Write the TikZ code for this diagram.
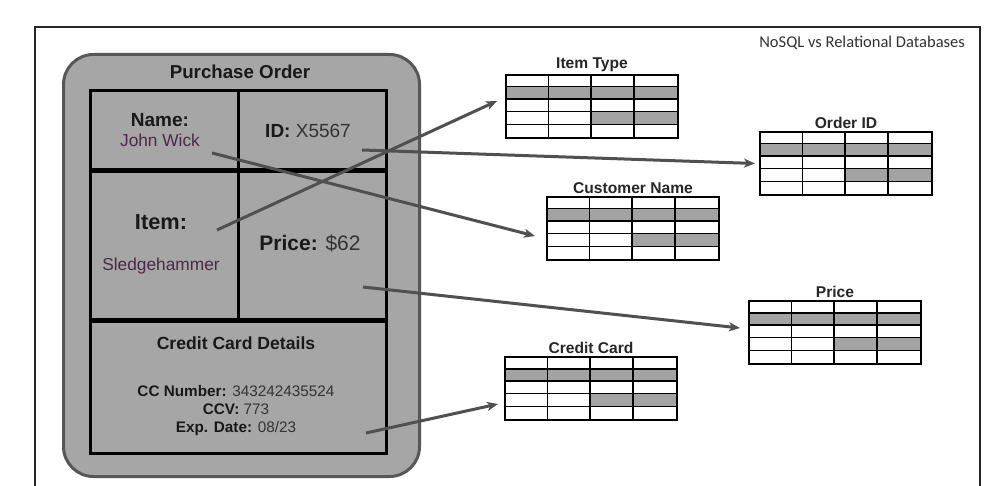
\documentclass[tikz,border=0pt]{standalone}
\usepackage{fontspec}
\setmainfont{Liberation Sans}
\newfontfamily\calibri{Carlito}
\usetikzlibrary{arrows.meta, positioning, calc}

\definecolor{boxgray}{HTML}{A6A6A6}
\definecolor{rowgray}{HTML}{A3A3A3}
\definecolor{edgegray}{HTML}{575757}
\definecolor{arrowgray}{HTML}{505050}
\definecolor{valtext}{HTML}{333333}
\definecolor{nametext}{HTML}{4A2B45}

\begin{document}
\begin{tikzpicture}[
  x=1pt, y=-1pt,
  orderbox/.style  = {rectangle, rounded corners=30pt, draw=edgegray, line width=3pt,
                      fill=boxgray, anchor=north west, inner sep=0pt,
                      minimum width=356pt, minimum height=422pt},
  cell/.style      = {rectangle, draw=black, line width=2.6pt, fill=boxgray,
                      anchor=north west, inner sep=0pt},
  sep/.style       = {line width=4pt, draw=black},
  label/.style     = {font=\bfseries\fontsize{#1}{#1}\selectfont, text=black!90, inner sep=1pt},
  value/.style     = {font=\fontsize{#1}{#1}\selectfont, text=valtext, inner sep=1pt},
  tblbox/.style    = {rectangle, draw=black, line width=2pt, anchor=north west,
                      minimum width=172pt, minimum height=63pt, inner sep=0pt},
  tbltitle/.style  = {font=\bfseries\fontsize{15.6}{15.6}\selectfont, text=black!85, inner sep=1pt},
  thinrule/.style  = {line width=0.9pt, draw=black},
  thickrule/.style = {line width=1.8pt, draw=black},
  arr/.style       = {-{Stealth[length=11pt, width=9pt, inset=3pt]}, line width=3pt, draw=arrowgray},
]

\useasboundingbox[fill=white] (0,0) rectangle (990,486);

%% outer frame and caption
\draw[line width=1.2pt, black!85] (35,492) -- (35,27) -- (980,27) -- (980,492);
\node[font=\calibri\fontsize{16.5}{16.5}\selectfont, text=black!80, anchor=east, inner sep=0pt]
  (caption) at (965,43) {NoSQL vs Relational Databases};

%% purchase order document
\node[orderbox] (order) at (62,53) {};
\node[label=18.7] (ordertitle) at (240,72) {Purchase Order};

\node[cell, minimum width=148pt, minimum height=79pt]  (namecell)  at (89,89)  {};
\node[cell, minimum width=148pt, minimum height=79pt]  (idcell)    at (237,89) {};
\node[cell, minimum width=148pt, minimum height=150pt] (itemcell)  at (89,168) {};
\node[cell, minimum width=148pt, minimum height=150pt] (pricecell) at (237,168) {};
\node[cell, minimum width=296pt, minimum height=134pt] (cccell)    at (89,318) {};

\draw[sep] (namecell.south west) -- (idcell.south east);
\draw[sep] (itemcell.south west) -- (pricecell.south east);

\node[label=19] (namelbl) at (160,120) {Name:};
\node[value=17.3, text=nametext] (nameval) at (160,140) {John Wick};
\node[value=19] (idlbl) at (308,131) {\textbf{\color{black!90}ID:} X5567};
\node[label=21.8] (itemlbl) at (161,222) {Item:};
\node[value=17.3, text=nametext] (itemval) at (161,266) {Sledgehammer};
\node[value=21] (pricelbl) at (310,243) {\textbf{\color{black!90}Price:} \$62};
\node[label=17.6] (cclbl) at (236,343) {Credit Card Details};
\node[value=15.3, align=center, font=\fontsize{15.3}{18}\selectfont] (ccval) at (236,411)
  {{\bfseries\color{black!90}CC Number:} 343242435524\\
   {\bfseries\color{black!90}CCV:} 773\\
   {\bfseries\color{black!90}Exp. Date:} 08/23};

%% arrow start points
\coordinate (nameend)  at (212,153);
\coordinate (idend)    at (362,150);
\coordinate (itemend)  at (217,230);
\coordinate (priceend) at (363,287);
\coordinate (ccend)    at (366,433);

%% relational tables
\foreach \tb/\tx/\ty/\ttl in {itype/505/74/Item Type, oid/759/131/Order ID,
                              cname/546/196/Customer Name, ptbl/748/300/Price,
                              cctbl/504/356/Credit Card}{
  \begin{scope}[shift={(\tx,\ty)}]
    \fill[rowgray] (0,12.6) rectangle (172,25.2);
    \fill[rowgray] (86,37.8) rectangle (172,50.4);
    \draw[thinrule] (0,37.8) -- (172,37.8) (0,50.4) -- (172,50.4) (43,0) -- (43,63);
    \draw[thickrule] (0,12.6) -- (172,12.6) (0,25.2) -- (172,25.2)
                     (86,0) -- (86,63) (129,0) -- (129,63);
    \node[tblbox] (\tb) at (0,0) {};
  \end{scope}
  \node[tbltitle, above=1pt of \tb] (\tb-t) {\ttl};
}

%% connecting arrows
\foreach \a/\b/\dx/\dy in {itemend/itype/-8/-5.5, idend/oid/-4/0, nameend/cname/-11/7.5,
                           priceend/ptbl/-8/-4.5, ccend/cctbl/-6/15.5}
  \draw[arr] (\a) -- ([shift={(\dx,\dy)}]\b.west);

\end{tikzpicture}
\end{document}
